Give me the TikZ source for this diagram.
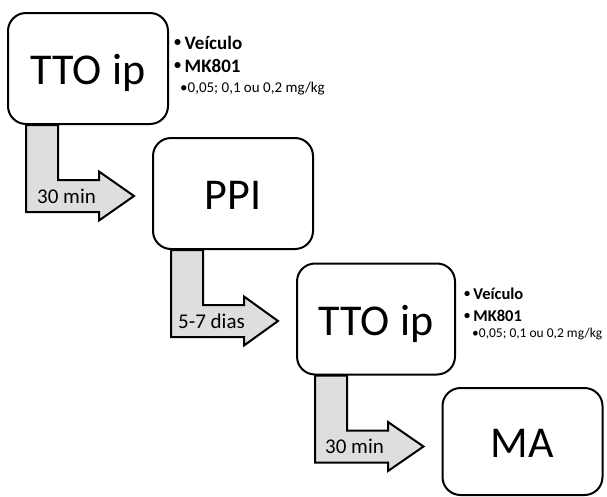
\documentclass[tikz,border=0pt]{standalone}
\usepackage{fontspec}
\setmainfont{Carlito}
\usetikzlibrary{calc,backgrounds}
\definecolor{shaftgray}{HTML}{DEDEDE}
\tikzset{
  stage/.style={draw=black, line width=2pt, rounded corners=18pt, fill=white,
    minimum width=160pt, minimum height=111pt, inner sep=0pt,
    text height=32pt, text depth=0pt, font=\fontsize{44}{50}\selectfont},
  flow/.style={draw=black, line width=2pt, fill=shaftgray, line join=miter},
  flowlabel/.style={anchor=base west, inner sep=0pt, font=\fontsize{21}{25}\selectfont},
  doseitem/.style={anchor=base west, inner sep=0pt, font=\fontsize{19}{23}\selectfont\bfseries},
  dosesub/.style={anchor=base west, inner sep=0pt, font=\fontsize{15}{18}\selectfont},
  doseitemsmall/.style={doseitem, font=\fontsize{16.5}{20}\selectfont\bfseries},
  dosesubsmall/.style={dosesub, font=\fontsize{13.5}{16}\selectfont},
}
% small list bullet followed by a short gap
\newcommand{\bul}{\raisebox{0.12em}{\fontsize{0.75em}{1em}\selectfont•}\hspace{0.18em}}
% bent block arrow from the bottom of box #1 to the left side of box #2,
% labelled #5 (label node #3, shifted #4 from the arrow's left edge)
\newcommand{\stagearrow}[5]{%
  \begin{scope}[on background layer]
    \path[flow] let \p1=(#1.south west), \p2=(#2.west) in
      (\x1+19pt,\y1) -- (\x1+19pt,\y1-87pt) -- (\x1+92pt,\y1-87pt)
      -- (\x1+92pt,\y1-95.5pt) -- (\x2-18pt,\y1-71pt) -- (\x1+92pt,\y1-46.5pt)
      -- (\x1+92pt,\y1-55pt) -- (\x1+51pt,\y1-55pt) -- (\x1+51pt,\y1) -- cycle;
  \end{scope}
  \node[flowlabel] (#3) at ($(#1.south west)+(19+#4,78)$) {#5};%
}
\begin{document}
\begin{tikzpicture}[x=1pt,y=-1pt]
\useasboundingbox (0,0) rectangle (607,496);

% stages
\node[stage] (tto1) at (88,68.5) {TTO ip};
\node[stage] (ppi) at (233,193.5) {PPI};
\node[stage, minimum width=158pt] (tto2) at (376,319) {TTO ip};
\node[stage, minimum height=107pt] (ma) at (522.5,441.5) {MA};

% treatment notes
\node[doseitem] (n1v) at ($(tto1.north east)+(5,37)$) {\bul Veículo};
\node[doseitem] (n1m) at ($(tto1.north east)+(5,60)$) {\bul MK801};
\node[dosesub]  (n1s) at ($(tto1.north east)+(11,80)$) {•0,05; 0,1 ou 0,2 mg/kg};
\node[doseitemsmall] (n2v) at ($(tto2.north east)+(8,37)$) {\bul Veículo};
\node[doseitemsmall] (n2m) at ($(tto2.north east)+(8,59)$) {\bul MK801};
\node[dosesubsmall]  (n2s) at ($(tto2.north east)+(16,75)$) {•0,05; 0,1 ou 0,2 mg/kg};

% transitions
\stagearrow{tto1}{ppi}{t1}{11}{30 min}
\stagearrow{ppi}{tto2}{t2}{7}{5-7 dias}
\stagearrow{tto2}{ma}{t3}{10}{30 min}
\end{tikzpicture}
\end{document}
